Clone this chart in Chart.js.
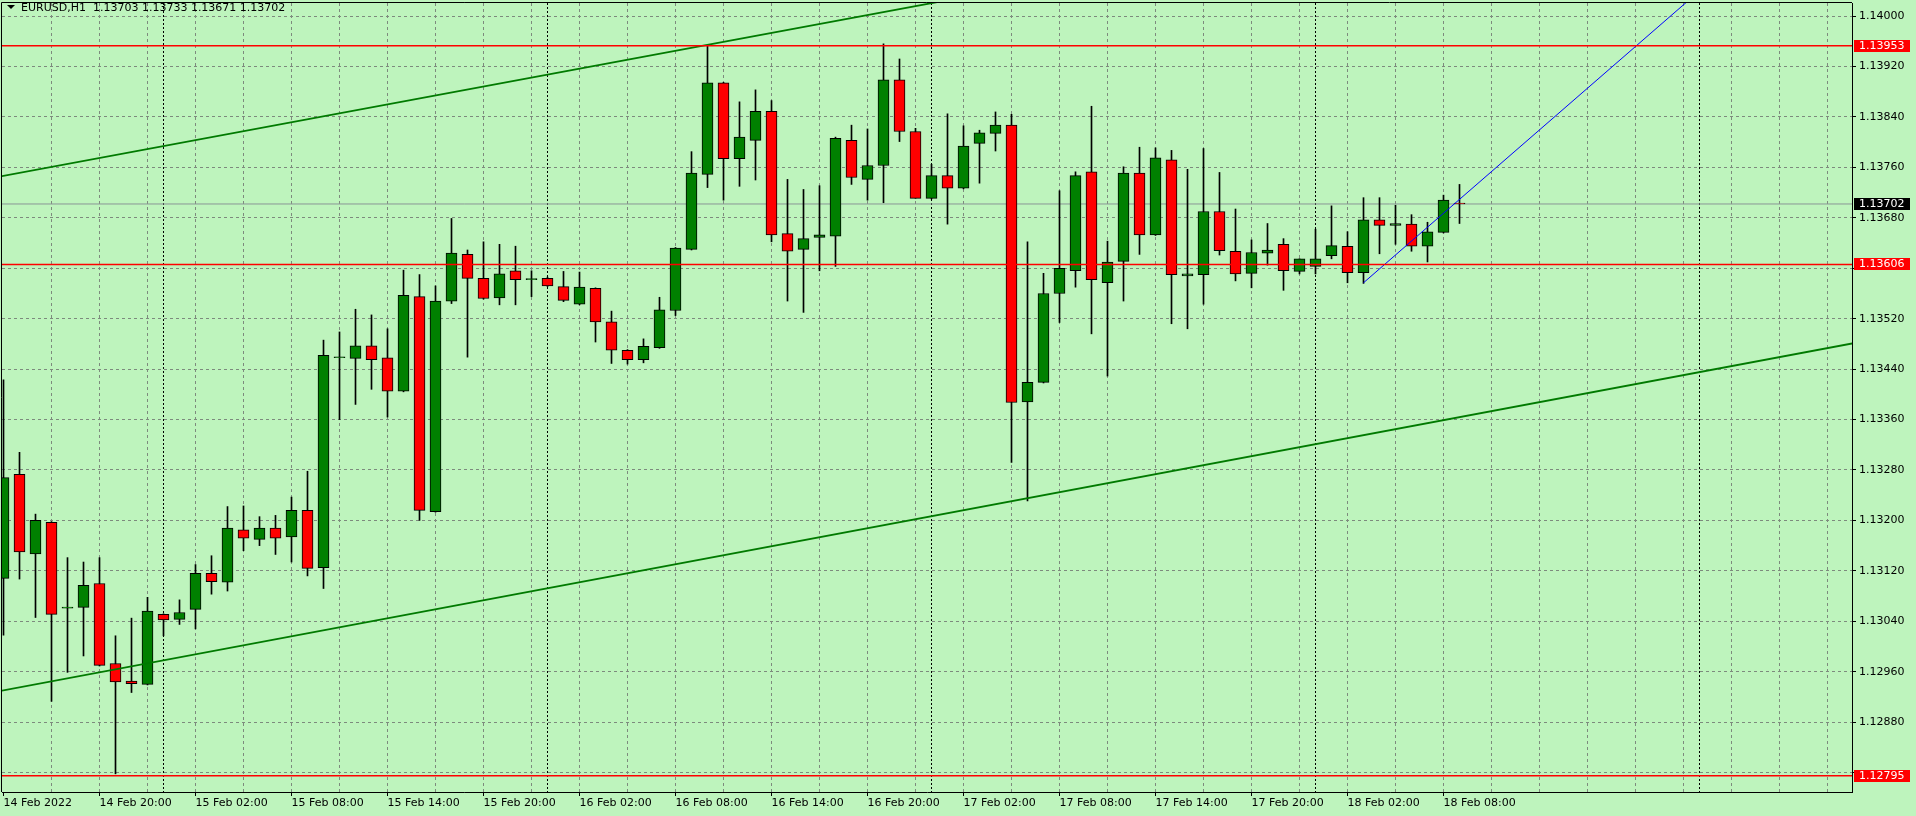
<!DOCTYPE html>
<html>
<head>
<meta charset="utf-8">
<title>EURUSD,H1</title>
<script src="https://cdn.jsdelivr.net/npm/chart.js@4.4.0/dist/chart.umd.min.js"></script>
<style>
  html, body { margin: 0; padding: 0; background: #bef4bd; overflow: hidden; }
</style>
</head>
<body>
<canvas id="chart" width="1916" height="816"></canvas>
<script>
// EURUSD H1, bars from 14 Feb 2022 14:00 (bar index 0) to 18 Feb 09:00
const opens = [
  1.13108, 1.13273, 1.13147, 1.13197, 1.13061, 1.13062, 1.13100, 1.12973, 1.12945, 1.12940,
  1.13051, 1.13043, 1.13059, 1.13116, 1.13102, 1.13185, 1.13170, 1.13188, 1.13174, 1.13216,
  1.13125, 1.13458, 1.13457, 1.13477, 1.13458, 1.13405, 1.13555, 1.13214, 1.13548, 1.13622,
  1.13584, 1.13553, 1.13596, 1.13582, 1.13584, 1.13571, 1.13543, 1.13568, 1.13515, 1.13470,
  1.13455, 1.13474, 1.13533, 1.13630, 1.13749, 1.13894, 1.13774, 1.13803, 1.13849, 1.13655,
  1.13630, 1.13649, 1.13651, 1.13803, 1.13741, 1.13763, 1.13899, 1.13817, 1.13711, 1.13747,
  1.13727, 1.13798, 1.13814, 1.13827, 1.13388, 1.13419, 1.13560, 1.13596, 1.13753, 1.13577,
  1.13611, 1.13751, 1.13653, 1.13772, 1.13588, 1.13590, 1.13690, 1.13627, 1.13592, 1.13624,
  1.13638, 1.13595, 1.13603, 1.13620, 1.13635, 1.13593, 1.13677, 1.13668, 1.13670, 1.13635,
  1.13657, 1.13703
];
const highs = [
  1.13423, 1.13308, 1.13210, 1.13198, 1.13141, 1.13134, 1.13141, 1.13017, 1.13045, 1.13078,
  1.13052, 1.13074, 1.13130, 1.13144, 1.13222, 1.13223, 1.13206, 1.13208, 1.13237, 1.13278,
  1.13486, 1.13499, 1.13535, 1.13526, 1.13504, 1.13597, 1.13590, 1.13572, 1.13679, 1.13629,
  1.13642, 1.13638, 1.13635, 1.13596, 1.13586, 1.13595, 1.13594, 1.13569, 1.13532, 1.13471,
  1.13488, 1.13554, 1.13633, 1.13785, 1.13953, 1.13895, 1.13864, 1.13883, 1.13866, 1.13741,
  1.13725, 1.13731, 1.13808, 1.13827, 1.13821, 1.13956, 1.13932, 1.13822, 1.13765, 1.13845,
  1.13826, 1.13819, 1.13848, 1.13844, 1.13642, 1.13592, 1.13723, 1.13753, 1.13857, 1.13643,
  1.13761, 1.13792, 1.13791, 1.13787, 1.13757, 1.13790, 1.13752, 1.13694, 1.13645, 1.13671,
  1.13647, 1.13615, 1.13662, 1.13699, 1.13658, 1.13712, 1.13712, 1.13700, 1.13685, 1.13673,
  1.13716, 1.13733
];
const lows = [
  1.13018, 1.13107, 1.13046, 1.12913, 1.12959, 1.12985, 1.12969, 1.12798, 1.12927, 1.12939,
  1.13017, 1.13035, 1.13028, 1.13083, 1.13088, 1.13152, 1.13160, 1.13146, 1.13134, 1.13112,
  1.13092, 1.13360, 1.13384, 1.13408, 1.13364, 1.13404, 1.13200, 1.13213, 1.13544, 1.13459,
  1.13551, 1.13542, 1.13542, 1.13555, 1.13571, 1.13547, 1.13542, 1.13483, 1.13449, 1.13448,
  1.13450, 1.13473, 1.13525, 1.13629, 1.13728, 1.13708, 1.13730, 1.13740, 1.13642, 1.13548,
  1.13530, 1.13596, 1.13603, 1.13733, 1.13708, 1.13704, 1.13801, 1.13711, 1.13710, 1.13670,
  1.13726, 1.13735, 1.13786, 1.13292, 1.13231, 1.13418, 1.13514, 1.13570, 1.13496, 1.13429,
  1.13548, 1.13622, 1.13652, 1.13512, 1.13504, 1.13543, 1.13621, 1.13580, 1.13569, 1.13605,
  1.13565, 1.13591, 1.13591, 1.13615, 1.13577, 1.13576, 1.13623, 1.13638, 1.13627, 1.13610,
  1.13656, 1.13671
];
const closes = [
  1.13268, 1.13150, 1.13200, 1.13051, 1.13061, 1.13097, 1.12970, 1.12944, 1.12941, 1.13056,
  1.13042, 1.13054, 1.13116, 1.13103, 1.13188, 1.13172, 1.13188, 1.13172, 1.13216, 1.13124,
  1.13462, 1.13458, 1.13477, 1.13455, 1.13405, 1.13557, 1.13216, 1.13548, 1.13624, 1.13584,
  1.13552, 1.13591, 1.13582, 1.13582, 1.13572, 1.13549, 1.13570, 1.13515, 1.13470, 1.13455,
  1.13476, 1.13534, 1.13632, 1.13751, 1.13894, 1.13774, 1.13808, 1.13849, 1.13653, 1.13627,
  1.13647, 1.13653, 1.13806, 1.13744, 1.13763, 1.13899, 1.13817, 1.13711, 1.13747, 1.13727,
  1.13794, 1.13815, 1.13827, 1.13387, 1.13419, 1.13560, 1.13600, 1.13747, 1.13582, 1.13610,
  1.13751, 1.13653, 1.13775, 1.13590, 1.13591, 1.13690, 1.13628, 1.13591, 1.13625, 1.13629,
  1.13596, 1.13615, 1.13615, 1.13636, 1.13593, 1.13677, 1.13668, 1.13671, 1.13635, 1.13658,
  1.13708, 1.13702
];

// x tick labels, one every 6 bars
const timeLabels = [
  '14 Feb 2022', '14 Feb 20:00', '15 Feb 02:00', '15 Feb 08:00', '15 Feb 14:00', '15 Feb 20:00',
  '16 Feb 02:00', '16 Feb 08:00', '16 Feb 14:00', '16 Feb 20:00', '17 Feb 02:00', '17 Feb 08:00',
  '17 Feb 14:00', '17 Feb 20:00', '18 Feb 02:00', '18 Feb 08:00'
];
const yTicks = [1.14000, 1.13920, 1.13840, 1.13760, 1.13680, 1.13600, 1.13520, 1.13440,
  1.13360, 1.13280, 1.13200, 1.13120, 1.13040, 1.12960, 1.12880, 1.12800];

// drawn objects
const levels = [1.13953, 1.13606, 1.12795];
const bidPrice = 1.13702;
const daySeparators = [10, 34, 58, 82, 106];
const upperTrend = [{x: -0.1, y: 1.13746}, {x: 60, y: 1.14030}];
const lowerTrend = [{x: -0.1, y: 1.12930}, {x: 115.6, y: 1.13481}];
const blueRay = [{x: 85, y: 1.13577}, {x: 106, y: 1.14040}];
const titleText = 'EURUSD,H1  1.13703 1.13733 1.13671 1.13702';

const XMIN = -0.09375, XMAX = 115.53125;
const YMIN = 1.127692, YMAX = 1.140208;
const BG = '#bef4bd';
const GRID = '#7d8a7d';
const FONT = '11px "DejaVu Sans"';

const bars = closes.map((c, i) => i);
const bodyColors = bars.map(i => closes[i] >= opens[i] ? '#008000' : '#ff0000');
const gridBars = [];
for (let v = 0; v <= 114; v += 3) gridBars.push(v);

function labelFor(v) {
  if (v % 6 !== 0) return '';
  return timeLabels[v / 6] || '';
}

const flatLine = (y, color, width, order) => ({
  type: 'line',
  data: [{x: XMIN, y: y}, {x: XMAX, y: y}],
  borderColor: color, borderWidth: width, pointRadius: 0, clip: 0, order: order
});
const trendLine = (pts, color, width) => ({
  type: 'line', data: pts, borderColor: color, borderWidth: width,
  pointRadius: 0, clip: 0, order: 0
});

const bgPlugin = {
  id: 'bg',
  beforeDraw(chart) {
    const ctx = chart.ctx;
    ctx.save();
    ctx.fillStyle = BG;
    ctx.fillRect(0, 0, chart.width, chart.height);
    ctx.restore();
  },
  beforeDatasetsDraw(chart) {
    const {ctx, chartArea: a, scales: {x}} = chart;
    ctx.save();
    ctx.strokeStyle = '#000';
    ctx.lineWidth = 1;
    ctx.setLineDash([2, 2]);
    daySeparators.forEach(d => {
      const px = Math.round(x.getPixelForValue(d)) - 0.5;
      ctx.beginPath();
      ctx.moveTo(px, a.top);
      ctx.lineTo(px, a.bottom);
      ctx.stroke();
    });
    ctx.restore();
  }
};

const labelsPlugin = {
  id: 'mtLabels',
  afterDraw(chart) {
    const {ctx, chartArea: a, scales: {y}} = chart;
    ctx.save();
    // frame
    ctx.strokeStyle = '#000';
    ctx.lineWidth = 1;
    ctx.beginPath();
    ctx.moveTo(a.left - 0.5, a.bottom);
    ctx.lineTo(a.left - 0.5, a.top - 0.5);
    ctx.lineTo(a.right, a.top - 0.5);
    ctx.stroke();

    // price boxes on the axis
    ctx.font = FONT;
    ctx.textBaseline = 'middle';
    ctx.textAlign = 'left';
    const box = (price, fill) => {
      const py = Math.round(y.getPixelForValue(price));
      ctx.fillStyle = fill;
      ctx.fillRect(a.right + 2, py - 6, 56, 12);
      ctx.fillStyle = '#fff';
      ctx.fillText(price.toFixed(5), a.right + 7, py + 0.5);
    };
    levels.forEach(p => box(p, '#ff0000'));
    box(bidPrice, '#000');

    // title
    ctx.fillStyle = '#000';
    ctx.beginPath();
    ctx.moveTo(7, 5);
    ctx.lineTo(15, 5);
    ctx.lineTo(11, 9);
    ctx.closePath();
    ctx.fill();
    ctx.fillText(titleText, 21, 8);
    ctx.restore();
  }
};

const noPad = s => { s.paddingTop = 0; s.paddingBottom = 0; s.paddingLeft = 0; s.paddingRight = 0; };

new Chart(document.getElementById('chart'), {
  type: 'bar',
  data: {
    datasets: [
      ...levels.map(l => flatLine(l, '#ff0000', 1.5, 0)),
      trendLine(upperTrend, '#007a00', 1.8),
      trendLine(lowerTrend, '#007a00', 1.8),
      trendLine(blueRay, '#0000ff', 1),
      {
        type: 'bar',
        data: bars.map(i => ({x: i, y: [opens[i], closes[i]]})),
        backgroundColor: bodyColors,
        borderColor: '#000',
        borderWidth: 1,
        borderSkipped: false,
        barThickness: 11,
        minBarLength: 1,
        grouped: false,
        order: 1
      },
      {
        type: 'bar',
        data: bars.map(i => ({x: i, y: [lows[i], highs[i]]})),
        backgroundColor: '#000',
        borderWidth: 0,
        barThickness: 1,
        grouped: false,
        order: 2
      },
      flatLine(bidPrice, '#8a9696', 1, 3)
    ]
  },
  options: {
    responsive: false,
    animation: false,
    events: [],
    layout: {padding: {left: 2, top: 3, right: 0, bottom: 0}},
    plugins: {legend: {display: false}, tooltip: {enabled: false}, title: {display: false}},
    scales: {
      x: {
        type: 'linear', min: XMIN, max: XMAX, offset: false,
        afterBuildTicks: s => { s.ticks = gridBars.map(v => ({value: v})); },
        afterFit: s => { s.height = 24; noPad(s); },
        grid: {
          color: c => (c.tick && c.tick.value === 0) ? 'rgba(0,0,0,0)' : GRID,
          offset: false, tickLength: 4, tickBorderDash: [],
          tickColor: c => (c.tick && labelFor(c.tick.value)) ? '#000' : 'rgba(0,0,0,0)'
        },
        border: {display: true, color: '#000', width: 1, dash: [3, 3]},
        ticks: {
          autoSkip: false, maxRotation: 0, minRotation: 0, align: 'start', padding: 1,
          color: '#000', font: {family: 'DejaVu Sans', size: 11},
          callback: v => labelFor(v)
        }
      },
      y: {
        type: 'linear', position: 'right', min: YMIN, max: YMAX,
        afterBuildTicks: s => { s.ticks = yTicks.map(v => ({value: v})); },
        afterFit: s => { s.width = 64; noPad(s); },
        grid: {color: GRID, tickLength: 4, tickColor: '#000', tickBorderDash: []},
        border: {display: true, color: '#000', width: 1, dash: [3, 3]},
        ticks: {
          padding: 3, crossAlign: 'near', color: '#000',
          font: {family: 'DejaVu Sans', size: 11},
          callback: v => levels.concat([bidPrice]).some(l => Math.abs(l - v) < 0.00012) ? '' : v.toFixed(5)
        }
      }
    }
  },
  plugins: [bgPlugin, labelsPlugin]
});
</script>
</body>
</html>
